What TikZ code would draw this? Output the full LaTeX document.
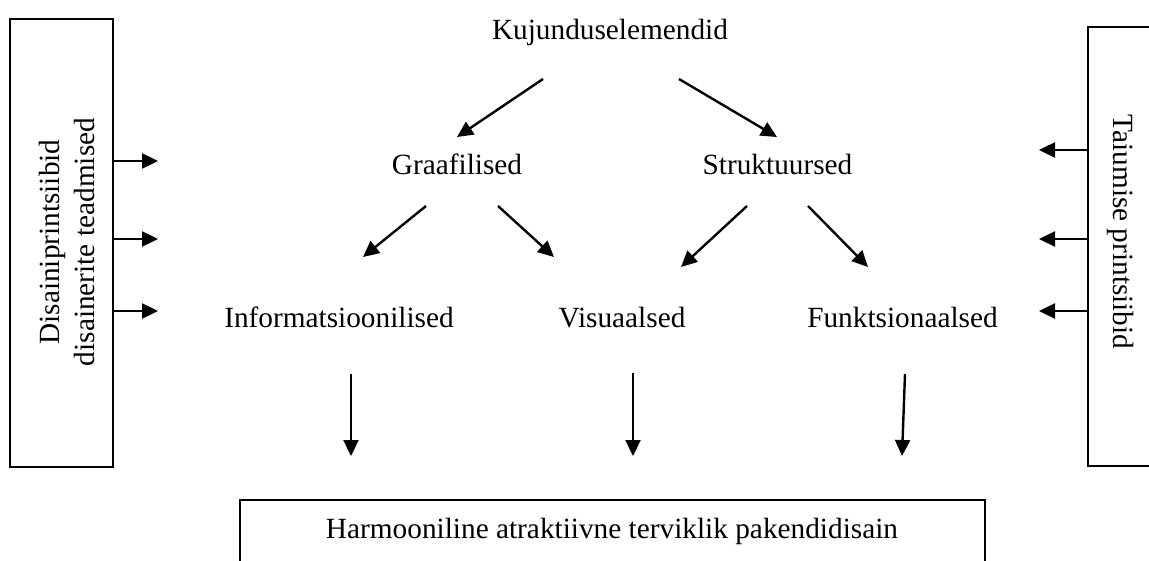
\documentclass[tikz,border=0pt]{standalone}
\usepackage{fontspec}
\setmainfont{Liberation Serif}
\usetikzlibrary{arrows.meta}
\begin{document}
\begin{tikzpicture}[x=1pt,y=-1pt,
  lbl/.style={font=\fontsize{29.3pt}{35pt}\selectfont, inner sep=0pt, anchor=base},
  vlbl/.style={font=\fontsize{29.3pt}{35pt}\selectfont, inner sep=0pt, align=center},
  frame/.style={draw, line width=1.8pt, inner sep=0pt},
  arr/.style={line width=2.4pt, -{Triangle[length=16pt,width=15pt]}}]
\clip (0,0) rectangle (1149,561);
\fill[white] (0,0) rectangle (1149,561);

% frames
\node[frame, minimum width=103pt, minimum height=448pt] (lbox) at (61.5,243) {};
\node[frame, minimum width=80pt, minimum height=439pt] (rbox) at (1128,246.5) {};
\node[frame, minimum width=745pt, minimum height=80pt] (hbox) at (612.5,540) {};

% text
\node[vlbl, rotate=90] (ltxt) at (67,242) {Disainiprintsiibid\\disainerite teadmised};
\node[vlbl, rotate=-90] (rtxt) at (1121,232) {Taiumise printsiibid};
\node[lbl] (kuj) at (610,40) {Kujunduselemendid};
\node[lbl] (gra) at (457,175) {Graafilised};
\node[lbl] (str) at (777.5,175) {Struktuursed};
\node[lbl] (inf) at (339,328) {Informatsioonilised};
\node[lbl] (vis) at (622,328) {Visuaalsed};
\node[lbl] (fun) at (902.5,328) {Funktsionaalsed};
\node[lbl] (har) at (612,538) {Harmooniline atraktiivne terviklik pakendidisain};

% arrow end points
\coordinate (a1s) at (543,79);  \coordinate (a1e) at (457,137);
\coordinate (a2s) at (679,79);  \coordinate (a2e) at (777,137);
\coordinate (a3s) at (426,206); \coordinate (a3e) at (363,257);
\coordinate (a4s) at (498,206); \coordinate (a4e) at (554,257);
\coordinate (a5s) at (747,206); \coordinate (a5e) at (681,267);
\coordinate (a6s) at (808,206); \coordinate (a6e) at (868,267);
\coordinate (b1s) at (351,374); \coordinate (b1e) at (351,456);
\coordinate (b2s) at (633,373); \coordinate (b2e) at (633,456);
\coordinate (b3s) at (905,374); \coordinate (b3e) at (902,456);
\coordinate (la1) at (158,161); \coordinate (la2) at (158,239); \coordinate (la3) at (158,311);
\coordinate (ra1) at (1039,150); \coordinate (ra2) at (1039,239); \coordinate (ra3) at (1039,311);

\draw[arr] (a1s) -- (a1e);
\draw[arr] (a2s) -- (a2e);
\draw[arr] (a3s) -- (a3e);
\draw[arr] (a4s) -- (a4e);
\draw[arr] (a5s) -- (a5e);
\draw[arr] (a6s) -- (a6e);
\draw[arr] (b1s) -- (b1e);
\draw[arr] (b2s) -- (b2e);
\draw[arr] (b3s) -- (b3e);
\draw[arr] (lbox.east |- la1) -- (la1);
\draw[arr] (lbox.east |- la2) -- (la2);
\draw[arr] (lbox.east |- la3) -- (la3);
\draw[arr] (rbox.west |- ra1) -- (ra1);
\draw[arr] (rbox.west |- ra2) -- (ra2);
\draw[arr] (rbox.west |- ra3) -- (ra3);
\end{tikzpicture}
\end{document}
